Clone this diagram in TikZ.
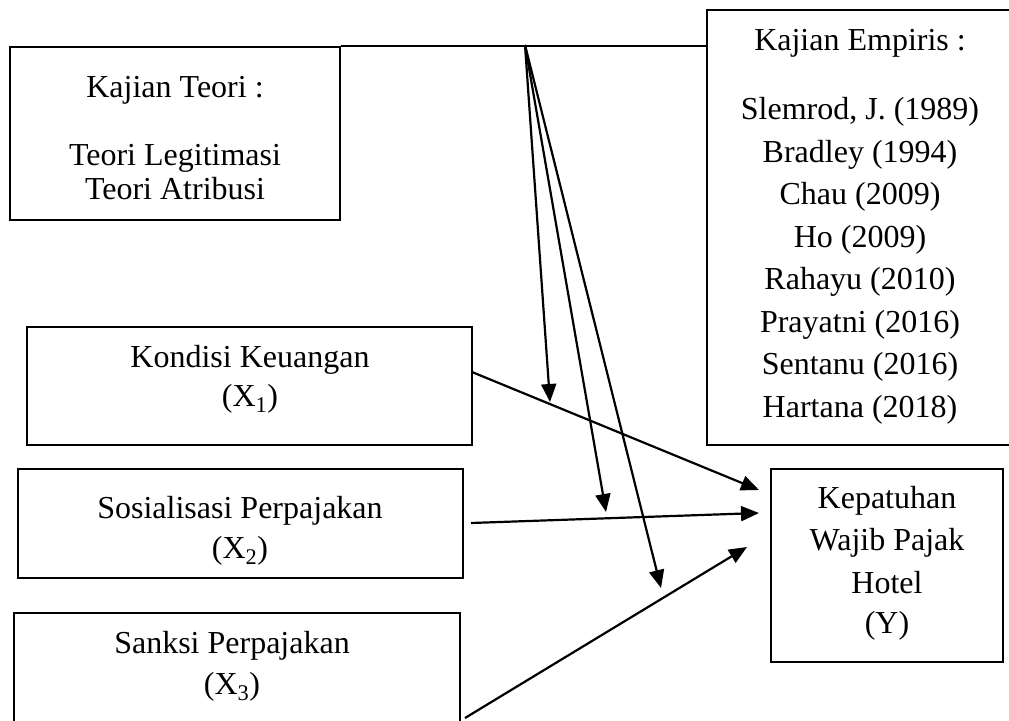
\documentclass[tikz,border=0pt]{standalone}
\usepackage{fontspec}
\setmainfont{Liberation Serif}
\usetikzlibrary{arrows.meta}
\begin{document}
\begin{tikzpicture}[x=1pt,y=-1pt,
  box/.style={draw,line width=2.2pt,rectangle,inner sep=0pt},
  txt/.style={anchor=base,inner sep=0pt,font=\fontsize{32}{40}\selectfont},
  conn/.style={line width=2.2pt},
  arr/.style={line width=2.2pt,-{Triangle[length=18pt,width=15pt]}}]
\useasboundingbox (0,0) rectangle (1009,720);
% boxes
\node[box,minimum width=330pt,minimum height=173pt] (teori) at (175,133.5) {};
\node[box,minimum width=306pt,minimum height=435pt] (empiris) at (860,227.5) {};
\node[box,minimum width=445pt,minimum height=118pt] (kondisi) at (249.5,386) {};
\node[box,minimum width=445pt,minimum height=109pt] (sosial) at (240.5,523.5) {};
\node[box,minimum width=446pt,minimum height=117pt] (sanksi) at (237,671.5) {};
\node[box,minimum width=232pt,minimum height=193pt] (y) at (887,565.5) {};
% texts
\node[txt] (t1) at (175,97) {Kajian Teori :};
\node[txt] (t2) at (175,165) {Teori Legitimasi};
\node[txt] (t3) at (175,199) {Teori Atribusi};
\node[txt] (e0) at (860,50) {Kajian Empiris :};
\node[txt] (e1) at (860,119) {Slemrod, J. (1989)};
\node[txt] (e2) at (860,162) {Bradley (1994)};
\node[txt] (e3) at (860,204) {Chau (2009)};
\node[txt] (e4) at (860,247) {Ho (2009)};
\node[txt] (e5) at (860,289) {Rahayu (2010)};
\node[txt] (e6) at (860,332) {Prayatni (2016)};
\node[txt] (e7) at (860,374) {Sentanu (2016)};
\node[txt] (e8) at (860,417) {Hartana (2018)};
\node[txt] (k1) at (250,367) {Kondisi Keuangan};
\node[txt] (k2) at (250,406) {(X\textsubscript{1})};
\node[txt] (s1) at (240,518) {Sosialisasi Perpajakan};
\node[txt] (s2) at (240,558) {(X\textsubscript{2})};
\node[txt] (n1) at (232,653) {Sanksi Perpajakan};
\node[txt] (n2) at (232,694) {(X\textsubscript{3})};
\node[txt] (y1) at (887,508) {Kepatuhan};
\node[txt] (y2) at (887,550) {Wajib Pajak};
\node[txt] (y3) at (887,593) {Hotel};
\node[txt] (y4) at (887,633) {(Y)};
% coordinates
\coordinate (top) at (525,45);
\coordinate (m1) at (550,402);
\coordinate (m2) at (606,512);
\coordinate (m3) at (661,588);
\coordinate (ks) at (472,372);
\coordinate (ke) at (759,490);
\coordinate (ss) at (471,523);
\coordinate (se) at (759,513);
\coordinate (ns) at (465,718);
\coordinate (ne) at (747,547);
% connectors
\draw[conn] (teori.north east) -- (teori.north east -| empiris.west);
\draw[arr] (top) -- (m1);
\draw[arr] (top) -- (m2);
\draw[arr] (top) -- (m3);
\draw[arr] (ks) -- (ke);
\draw[arr] (ss) -- (se);
\draw[arr] (ns) -- (ne);
\end{tikzpicture}
\end{document}
